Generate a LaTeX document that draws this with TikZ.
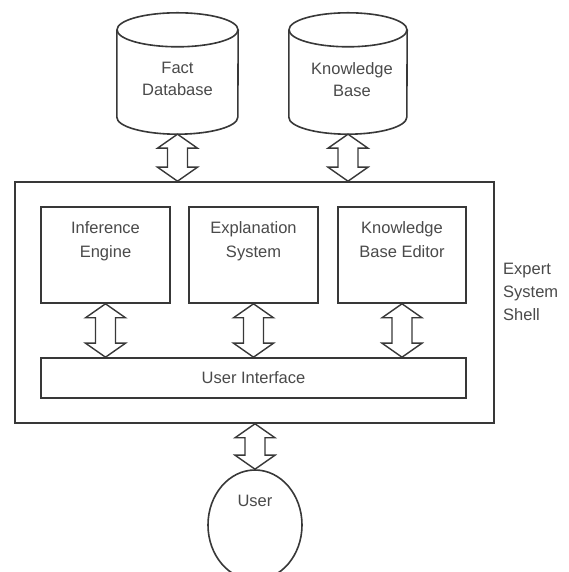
\documentclass[tikz,border=0pt]{standalone}
\usepackage{fontspec}
\setmainfont{Liberation Sans}
\usetikzlibrary{calc,shapes.geometric}
\definecolor{ln}{HTML}{383838}
\definecolor{tx}{HTML}{4A4A4A}
\newcommand{\dblarr}[2]{%
  \draw[arrline] let \p1=(#1), \p2=(#2) in
   (\x1,\y1) -- (\x1+20pt,\y1-14pt) -- (\x1+10pt,\y1-14pt) -- (\x1+10pt,\y2+14pt)
   -- (\x1+20pt,\y2+14pt) -- (\x1,\y2) -- (\x1-20pt,\y2+14pt) -- (\x1-10pt,\y2+14pt)
   -- (\x1-10pt,\y1-14pt) -- (\x1-20pt,\y1-14pt) -- cycle;}
\tikzset{
  ln/.style={draw=ln, line width=1.6pt},
  arrline/.style={draw=ln, line width=1.4pt, line join=miter, fill=white},
  box/.style={ln, rectangle, inner sep=0pt},
  lbl/.style={text=tx, font=\fontsize{16.5}{23}\selectfont, align=center, inner sep=0pt},
  toplbl/.style={lbl, anchor=north, font=\fontsize{16.5}{24}\selectfont},
  cylbase/.style={rectangle, inner sep=0pt, minimum width=#1, minimum height=121pt},
}
\begin{document}
\begin{tikzpicture}[x=1pt,y=1pt]
\useasboundingbox[fill=white] (0,0) rectangle (568,572);
% cylinders
\node[cylbase=121pt] (fact) at (177.5,498.5) {};
\node[cylbase=118pt] (kb) at (348,498.5) {};
\foreach \c/\r in {fact/60.5pt, kb/59pt}{
  \draw[ln] ([yshift=-17pt]\c.north) ellipse [x radius=\r, y radius=17pt];
  \draw[ln] ([yshift=-17pt]\c.north west) -- ([yshift=17pt]\c.south west)
     arc [start angle=180, end angle=360, x radius=\r, y radius=17pt]
     -- ([yshift=-17pt]\c.north east);
}
\node[lbl, anchor=north, font=\fontsize{16.5}{22}\selectfont] (factlbl) at ([yshift=-49.5pt]fact.north) {Fact\\Database};
\node[lbl, anchor=north, font=\fontsize{16.5}{22}\selectfont] (kblbl) at ([xshift=4pt,yshift=-49.5pt]kb.north) {Knowledge\\Base};
% shell
\node[box, minimum width=479pt, minimum height=241pt] (shell) at (254.5,269.5) {};
\node[box, minimum width=129pt, minimum height=96pt] (ie) at (105.5,317) {};
\node[box, minimum width=129pt, minimum height=96pt] (es) at (253.5,317) {};
\node[box, minimum width=128pt, minimum height=96pt] (kbe) at (402,317) {};
\node[box, minimum width=425pt, minimum height=40pt] (ui) at (253.5,194) {};
\node[toplbl] (ielbl) at ([yshift=-15pt]ie.north) {Inference\\Engine};
\node[toplbl] (eslbl) at ([yshift=-15pt]es.north) {Explanation\\System};
\node[toplbl] (kbelbl) at ([yshift=-15pt]kbe.north) {Knowledge\\Base Editor};
\node[lbl] (uilbl) at (ui.center) {User Interface};
\node[lbl, align=left, anchor=west] (shelllbl) at (503,280.5) {Expert\\System\\Shell};
% user
\node[ln, ellipse, minimum width=94pt, minimum height=110pt, inner sep=0pt] (user) at (255,47) {};
\node[lbl] (userlbl) at ([yshift=-32pt]user.north) {User};
% arrows
\dblarr{fact.south}{fact.south |- shell.north}
\dblarr{kb.south}{kb.south |- shell.north}
\dblarr{ie.south}{ie.south |- ui.north}
\dblarr{es.south}{es.south |- ui.north}
\dblarr{kbe.south}{kbe.south |- ui.north}
\dblarr{user.north |- shell.south}{user.north}
\end{tikzpicture}
\end{document}
